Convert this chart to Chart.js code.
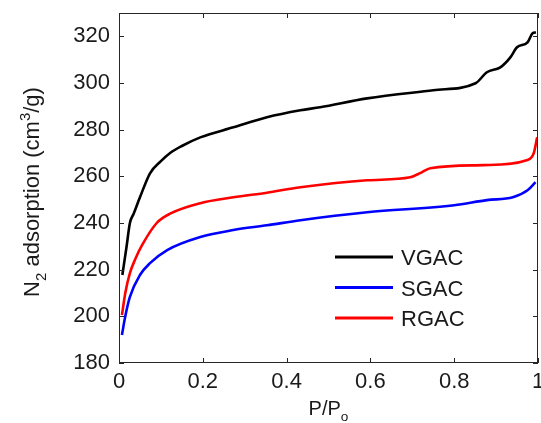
<!DOCTYPE html>
<html>
<head>
<meta charset="utf-8">
<style>
  html, body { margin: 0; padding: 0; background: #fff; }
  #wrap { width: 541px; height: 423px; }
</style>
<script src="https://cdn.jsdelivr.net/npm/chart.js@4.4.1/dist/chart.umd.min.js"></script>
</head>
<body>
<div id="wrap"><canvas id="c" width="541" height="423"></canvas></div>
<script>
// N2 adsorption isotherms: relative pressure vs. adsorbed volume
const seriesNames = ['VGAC', 'SGAC', 'RGAC'];
const seriesColors = ['#000000', '#0000ff', '#ff0000'];

const vgacP = [0.008, 0.018, 0.026, 0.035, 0.05, 0.074, 0.1, 0.122, 0.15, 0.194, 0.273, 0.353, 0.433, 0.48, 0.592, 0.75, 0.851, 0.878, 0.91, 0.934, 0.95, 0.975, 0.987, 0.995];
const vgacV = [217.7, 229.8, 240, 244, 251, 261.3, 266.5, 270, 273, 276.7, 281, 285.3, 288.3, 289.6, 293.4, 296.9, 299.9, 304.6, 306.7, 311, 315.3, 317.4, 321.3, 321.7];

const sgacP = [0.007, 0.015, 0.026, 0.05, 0.074, 0.115, 0.194, 0.273, 0.353, 0.433, 0.592, 0.8, 0.878, 0.94, 0.975, 0.994];
const sgacV = [192, 200, 208.3, 217.7, 222.8, 228.4, 234, 237, 239, 241.2, 244.6, 247.6, 249.8, 251, 254, 257.5];

const rgacP = [0.007, 0.015, 0.026, 0.04, 0.055, 0.09, 0.122, 0.194, 0.273, 0.353, 0.433, 0.592, 0.695, 0.72, 0.743, 0.87, 0.975, 0.99, 0.998];
const rgacV = [200.5, 210, 218.5, 225, 230.5, 240, 244, 248.5, 251, 253, 255.3, 258.3, 259.6, 261.5, 263.5, 264.8, 267, 270, 276.7];

const xTicks = [0, 0.2, 0.4, 0.6, 0.8, 1];
const yTicks = [180, 200, 220, 240, 260, 280, 300, 320];

const FONT = '"Liberation Sans", Arial, sans-serif';
const TEXT = '#1a1a1a';

function pairs(xs, ys) { return xs.map((x, i) => ({ x: x, y: ys[i] })); }

const seriesData = [pairs(vgacP, vgacV), pairs(sgacP, sgacV), pairs(rgacP, rgacV)];

// Draw a run of text pieces, some as sub/superscripts
function drawRich(ctx, pieces, size) {
  let total = 0;
  pieces.forEach(p => {
    ctx.font = (p.s ? size * 0.68 : size) + 'px ' + FONT;
    p.w = ctx.measureText(p.t).width;
    total += p.w;
  });
  let x = -total / 2;
  pieces.forEach(p => {
    ctx.font = (p.s ? size * 0.68 : size) + 'px ' + FONT;
    const dy = p.s === 'sub' ? size * 0.3 : p.s === 'sup' ? -size * 0.42 : 0;
    ctx.fillText(p.t, x, dy);
    x += p.w;
  });
}

const framePlugin = {
  id: 'frame',
  afterDatasetsDraw(chart) {
    const { ctx, chartArea: a, scales } = chart;
    ctx.save();
    ctx.strokeStyle = '#262626';
    ctx.lineWidth = 1;
    ctx.strokeRect(Math.round(a.left) + 0.5, Math.round(a.top) + 0.5,
      Math.round(a.right - a.left) - 1, Math.round(a.bottom - a.top) - 1);
    const tl = 5;
    ctx.beginPath();
    xTicks.forEach(v => {
      const px = Math.round(scales.x.getPixelForValue(v)) + 0.5;
      ctx.moveTo(px, a.bottom); ctx.lineTo(px, a.bottom - tl);
      ctx.moveTo(px, a.top); ctx.lineTo(px, a.top + tl);
    });
    yTicks.forEach(v => {
      const py = Math.round(scales.y.getPixelForValue(v)) + 0.5;
      ctx.moveTo(a.left, py); ctx.lineTo(a.left + tl, py);
      ctx.moveTo(a.right, py); ctx.lineTo(a.right - tl, py);
    });
    ctx.stroke();

    // legend
    const lx0 = 335, lx1 = 393, ly0 = 257, gap = 30.5;
    seriesNames.forEach((name, i) => {
      const y = ly0 + i * gap;
      ctx.strokeStyle = seriesColors[i];
      ctx.lineWidth = 3;
      ctx.beginPath(); ctx.moveTo(lx0, y); ctx.lineTo(lx1, y); ctx.stroke();
      ctx.fillStyle = TEXT;
      ctx.font = '22px ' + FONT;
      ctx.textAlign = 'left';
      ctx.textBaseline = 'middle';
      ctx.fillText(name, 401, y + 2);
    });

    // axis titles
    ctx.fillStyle = TEXT;
    ctx.textAlign = 'left';
    ctx.textBaseline = 'alphabetic';
    ctx.save();
    ctx.translate((a.left + a.right) / 2, 415);
    drawRich(ctx, [{ t: 'P/P' }, { t: 'o', s: 'sub' }], 20);
    ctx.restore();
    ctx.save();
    ctx.translate(39, (a.top + a.bottom) / 2 + 4);
    ctx.rotate(-Math.PI / 2);
    drawRich(ctx, [{ t: 'N' }, { t: '2', s: 'sub' }, { t: ' adsorption (cm' }, { t: '3', s: 'sup' }, { t: '/g)' }], 22);
    ctx.restore();
    ctx.restore();
  }
};

new Chart(document.getElementById('c'), {
  type: 'line',
  data: {
    datasets: seriesNames.map((name, i) => ({
      label: name,
      data: seriesData[i],
      borderColor: seriesColors[i],
      backgroundColor: seriesColors[i],
      borderWidth: 2.6,
      pointRadius: 0,
      cubicInterpolationMode: 'monotone',
      fill: false
    }))
  },
  options: {
    responsive: false,
    animation: false,
    devicePixelRatio: 1,
    layout: { padding: { left: 0, right: 3, top: 13, bottom: 0 } },
    plugins: { legend: { display: false }, tooltip: { enabled: false } },
    scales: {
      x: {
        type: 'linear', min: 0, max: 1,
        grid: { display: false, drawTicks: false },
        border: { display: false },
        afterBuildTicks: s => { s.ticks = xTicks.map(v => ({ value: v })); },
        afterFit: s => { s.height = 60; s.paddingLeft = 0; s.paddingRight = 0; },
        ticks: { color: TEXT, font: { family: FONT, size: 22 }, padding: 6, maxRotation: 0,
          callback: v => String(v) }
      },
      y: {
        type: 'linear', min: 180, max: 330,
        grid: { display: false, drawTicks: false },
        border: { display: false },
        afterBuildTicks: s => { s.ticks = yTicks.map(v => ({ value: v })); },
        afterFit: s => { s.width = 119; s.paddingTop = 0; s.paddingBottom = 0; },
        ticks: { color: TEXT, font: { family: FONT, size: 22 }, padding: 9,
          callback: v => String(v) }
      }
    }
  },
  plugins: [framePlugin]
});
</script>
</body>
</html>
